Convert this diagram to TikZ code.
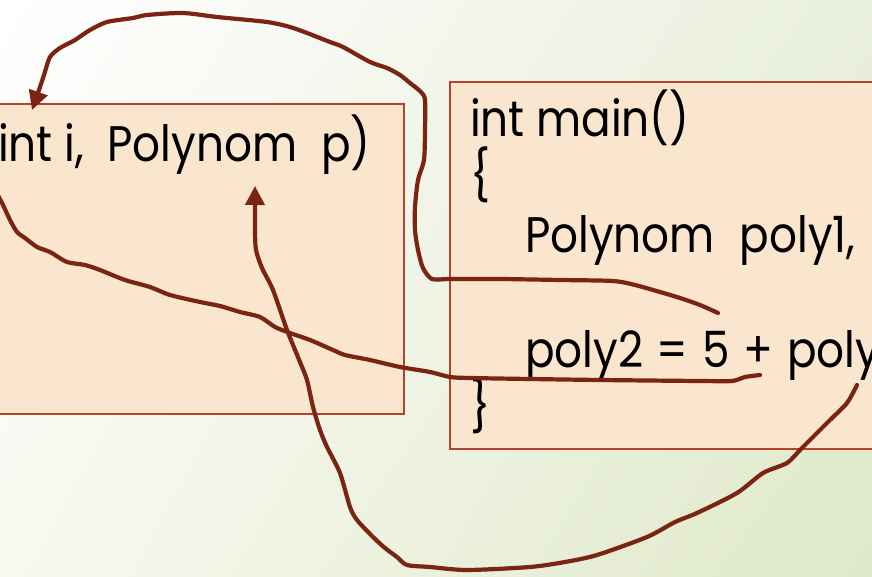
\documentclass[tikz,border=0pt]{standalone}
\usepackage{fontspec}
\setmainfont{Poppins}[FakeStretch=0.875]
\usetikzlibrary{arrows.meta,shadings}
\definecolor{bgTR}{HTML}{E9EFDD}
\definecolor{bgBL}{HTML}{F7F9F0}
\definecolor{bgBR}{HTML}{DFE8C8}
\definecolor{boxfill}{HTML}{FAE5CF}
\definecolor{boxline}{HTML}{B3432A}
\definecolor{pen}{HTML}{7A2411}
\tikzset{
  codebox/.style={draw=boxline, line width=1.8pt, fill=boxfill, anchor=north west, inner sep=0pt},
  code/.style={anchor=base west, inner sep=0pt, text=black, font=\fontsize{50}{57.5}\selectfont},
  hand/.style={draw=pen, line width=4.2pt, line cap=round, line join=round},
  tip/.style={-{Triangle[length=19pt,width=19pt]}}
}
\begin{document}
\begin{tikzpicture}[x=1pt,y=-1pt]
\useasboundingbox (0,0) rectangle (872,577);
\clip (0,0) rectangle (872,577);
\shade[upper left=white, upper right=bgTR, lower left=bgBL, lower right=bgBR] (0,0) rectangle (872,577);

% boxes
\node[codebox, minimum width=503pt, minimum height=310pt] (lbox) at (-100,103) {};
\node[codebox, minimum width=500pt, minimum height=367pt] (rbox) at (449,81) {};

% text
\node[code] (ltxt) at (-2,162) {int i,\hspace{12pt} Polynom\hspace{12pt} p)};
\node[code] (r1) at (470,137) {int main()};
\node[code] (r2) at (470,194) {\{};
\node[code] (r3) at (525,252) {Polynom\hspace{13pt} poly1,};
\node[code] (r5) at (525,367) {poly2\hspace{2pt} =\hspace{2pt} 5\hspace{2pt} +\hspace{2pt} poly};
\node[code] (r6) at (470,424) {\}};

% end points of hand-drawn connectors
\coordinate (a0) at (718,313);
\coordinate (a1) at (32,110);
\coordinate (b0) at (760,375);
\coordinate (b1) at (-6,188);
\coordinate (c0) at (857,385);
\coordinate (c1) at (255,186);

% curve A: from poly1 line to top of left box
\draw[hand,tip] plot[smooth,tension=0.45] coordinates {(a0) (700,305) (680,298) (660,292) (635,285) (613,281) (560,280) (500,279) (450,279) (432,279) (423,268) (418,250) (415,230) (415,207) (418,180) (424,160) (425,130) (425,100) (421,92) (410,83) (400,75) (387,68) (370,62) (343,47) (330,42) (307,33) (290,27) (267,22) (217,17) (183,13) (147,15) (133,18) (107,22) (90,30) (75,40) (60,48) (50,57) (44,75) (39,90) (a1)};

% curve B: from "5 +" leftwards off the picture
\draw[hand] plot[smooth,tension=0.45] coordinates {(b0) (745,377) (732,381) (700,381) (600,380) (530,379) (470,378) (450,377) (430,372) (400,367) (370,360) (345,355) (333,350) (310,340) (290,333) (275,327) (260,317) (240,312) (220,306) (200,302) (170,295) (150,287) (125,280) (100,270) (85,265) (67,262) (50,252) (37,247) (25,238) (17,232) (10,220) (3,205) (b1)};

% curve C: from poly1 operand round to p
\draw[hand,tip] plot[smooth,tension=0.45] coordinates {(c0) (847,403) (830,420) (813,437) (800,450) (787,463) (763,473) (737,493) (697,513) (675,522) (647,537) (597,555) (565,562) (530,567) (467,570) (430,567) (407,565) (397,557) (385,548) (373,537) (357,520) (350,507) (340,473) (327,447) (320,430) (313,407) (307,380) (300,362) (287,330) (273,290) (262,268) (256,250) (255,230) (c1)};
\end{tikzpicture}
\end{document}
